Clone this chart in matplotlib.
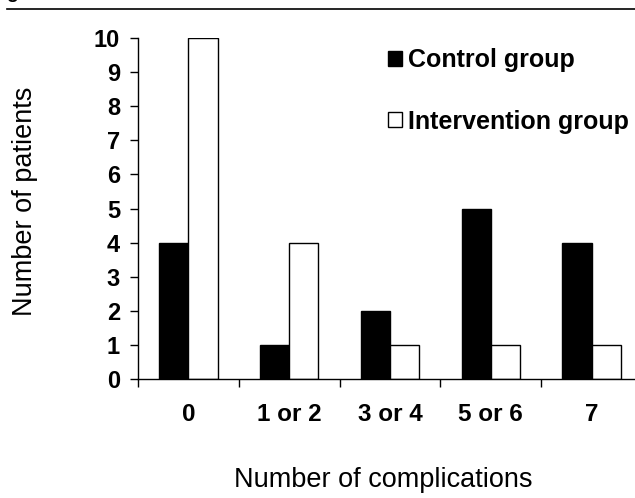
import matplotlib.pyplot as plt
import numpy as np
from matplotlib.patches import Patch
from matplotlib.lines import Line2D

plt.rcParams["font.family"] = ["Liberation Sans", "DejaVu Sans"]

# data
categories = ["0", "1 or 2", "3 or 4", "5 or 6", "7"]
control = [4, 1, 2, 5, 4]
intervention = [10, 4, 1, 1, 1]

W, H = 635, 498
fig = plt.figure(figsize=(W / 100, H / 100), dpi=100)
ax = fig.add_axes([138 / W, 1 - 379 / H, (642 - 138) / W, (379 - 38) / H])

x = np.arange(len(categories))
bw = 0.29
ax.bar(x - bw / 2, control, bw, color="black", edgecolor="black", linewidth=1.0)
ax.bar(x + bw / 2, intervention, bw, color="white", edgecolor="black", linewidth=1.0)

ax.set_xlim(-0.5, 4.5)
ax.set_ylim(0, 10)
ax.spines["top"].set_visible(False)
ax.spines["right"].set_visible(False)
ax.spines["left"].set_linewidth(1.0)
ax.spines["bottom"].set_linewidth(1.0)

ax.set_yticks(range(0, 11))
ax.tick_params(axis="y", direction="out", length=6, width=1.0, pad=7,
               labelsize=17)
for t in ax.get_yticklabels():
    t.set_fontweight("bold")

ax.set_xticks(x)
ax.set_xticklabels(categories, fontsize=17.5, fontweight="bold")
ax.set_xticks(np.arange(-0.5, 4.0, 1.0), minor=True)
ax.tick_params(axis="x", which="major", length=0, pad=17)
ax.tick_params(axis="x", which="minor", direction="out", length=6, width=1.0)

fig.text(25 / W, 1 - 201 / H, "Number of patients", rotation=90,
         ha="center", va="center", fontsize=19.5)
fig.text(383 / W, 1 - 480 / H, "Number of complications",
         ha="center", va="center", fontsize=19.5)

handles = [Patch(facecolor="black", edgecolor="black", linewidth=1.0),
           Patch(facecolor="white", edgecolor="black", linewidth=1.0)]
leg = fig.legend(handles, ["Control group", "Intervention group"],
                 loc="upper left", bbox_to_anchor=(388 / W, 1 - 48 / H),
                 frameon=False, borderpad=0, borderaxespad=0,
                 handlelength=0.55, handleheight=0.55, handletextpad=0.25,
                 labelspacing=1.5, prop={"size": 18, "weight": "bold"})

# header rule and cropped caption from the source page
fig.add_artist(Line2D([7 / W, 1], [1 - 9 / H, 1 - 9 / H], color="black",
                      linewidth=1.2))
fig.text(6 / W, 1 + 2 / H, "g", fontsize=14, fontweight="bold",
         va="baseline")

fig.savefig("out.png", dpi=100)
